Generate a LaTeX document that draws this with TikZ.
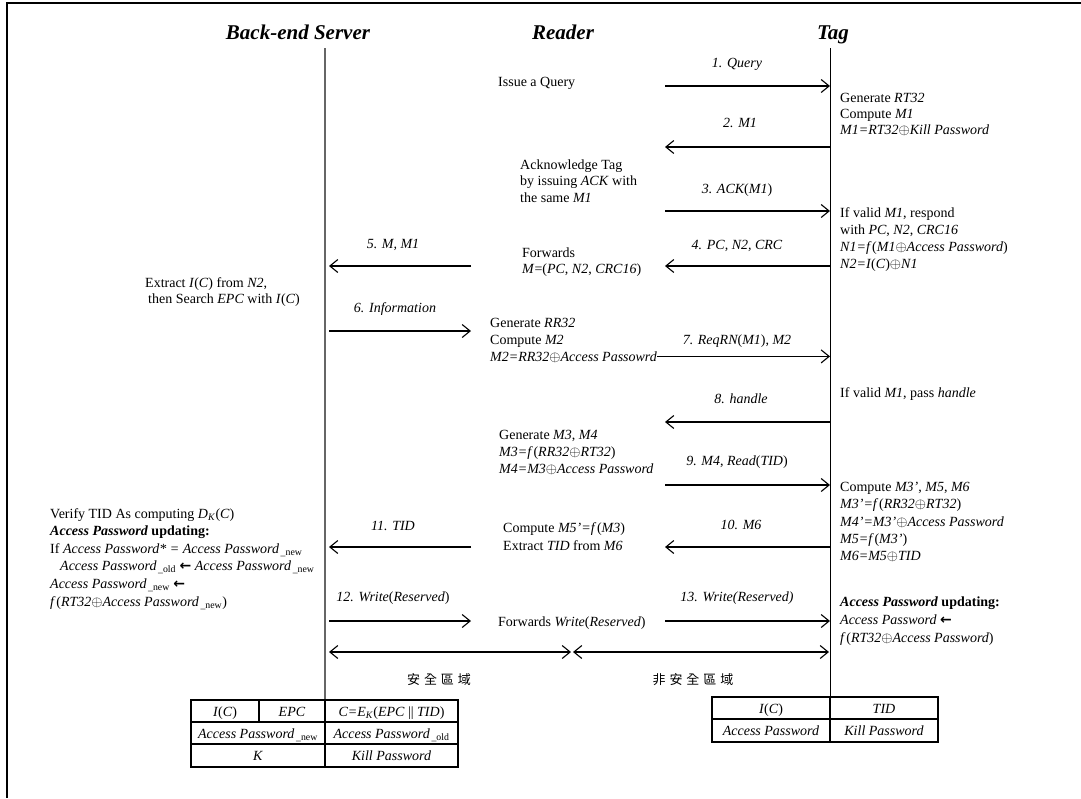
\documentclass[tikz,border=0pt]{standalone}
\usepackage{fontspec}
\setmainfont{Liberation Serif}
\newfontfamily\cjkfont[LetterSpace=30]{Noto Sans CJK TC}
\newfontfamily\dvsans{DejaVu Sans}
\usetikzlibrary{arrows.meta}
\newcommand{\xo}{\ensuremath{\oplus}}
\newcommand{\larr}{{\dvsans\bfseries ←}}
\newcommand{\snew}{\textsubscript{\,\_new}}
\newcommand{\sold}{\textsubscript{\,\_old}}
\begin{document}
\begin{tikzpicture}[x=1pt,y=-1pt,
  every node/.style={inner sep=0pt, font=\fontsize{14}{17}\selectfont},
  txt/.style={anchor=base west},
  lbl/.style={anchor=base, font=\fontsize{14}{17}\selectfont\itshape},
  ttl/.style={anchor=base, font=\fontsize{21}{24}\selectfont\bfseries\itshape},
  cell/.style={anchor=base},
  zone/.style={anchor=center, font=\fontsize{13}{15}\cjkfont},
  msg/.style={line width=1.1pt, -{Straight Barb[length=8pt,width=13pt]}},
  dbl/.style={line width=1.1pt, {Straight Barb[length=8pt,width=13pt]}-{Straight Barb[length=8pt,width=13pt]}},
  srvline/.style={line width=1.6pt, black!60},
  tagline/.style={line width=1pt, black},
  frame/.style={line width=2.5pt, black},
  tbl/.style={line width=1.6pt, black}]
\useasboundingbox (0,0) rectangle (1081,798);

% frame
\coordinate (fTL) at (7,3);
\coordinate (fTR) at (1081,3);
\coordinate (fBL) at (7,798);
\draw[frame] (fTR) -- (fTL) -- (fBL);

% titles
\node[ttl] (tSrv) at (298,39) {Back-end Server};
\node[ttl] (tRdr) at (563,39) {Reader};
\node[ttl] (tTag) at (833,39) {Tag};

% lifelines
\coordinate (srvTop) at (325,48);
\coordinate (srvBot) at (325,700);
\coordinate (tagTop) at (830,48);
\coordinate (tagBot) at (830,697);
\draw[srvline] (srvTop) -- (srvBot);
\draw[tagline] (tagTop) -- (tagBot);

% ---- message 1
\node[lbl] (l1) at (737,67) {1. Query};
\node[txt] (issue) at (498,86) {Issue a Query};
\coordinate (a1) at (665,86);
\draw[msg] (a1) -- (a1 -| tagTop);
\node[txt] (g1) at (840,102) {Generate \textit{RT32}};
\node[txt] (g2) at (840,118) {Compute \textit{M1}};
\node[txt] (g3) at (840,134) {\textit{M1=RT32}\xo\textit{Kill Password}};

% ---- message 2
\node[lbl] (l2) at (740,127) {2. M1};
\coordinate (a2) at (665,147);
\draw[msg] (a2 -| tagTop) -- (a2);
\node[txt] (k1) at (520,169) {Acknowledge Tag};
\node[txt] (k2) at (520,185) {by issuing \textit{ACK} with};
\node[txt] (k3) at (520,202) {the same \textit{M1}};

% ---- message 3
\node[lbl] (l3) at (737,193) {3. ACK\upshape(\itshape M1\upshape)};
\coordinate (a3) at (665,211);
\draw[msg] (a3) -- (a3 -| tagTop);
\node[txt] (v1) at (840,217) {If valid \textit{M1}, respond};
\node[txt] (v2) at (840,234) {with \textit{PC}, \textit{N2}, \textit{CRC16}};
\node[txt] (v3) at (840,251) {\textit{N1=f\,}(\textit{M1}\xo\textit{Access Password})};
\node[txt] (v4) at (840,268) {\textit{N2=I}(\textit{C})\xo\textit{N1}};

% ---- message 4
\node[lbl] (l4) at (737,249) {4. PC, N2, CRC};
\coordinate (a4) at (665,266);
\draw[msg] (a4 -| tagTop) -- (a4);
\node[txt] (f1) at (522,257) {Forwards};
\node[txt] (f2) at (522,273) {\textit{M}=(\textit{PC}, \textit{N2}, \textit{CRC16})};

% ---- message 5
\node[lbl] (l5) at (393,248) {5. M, M1};
\coordinate (a5) at (471,266);
\draw[msg] (a5) -- ([xshift=4pt]a5 -| srvTop);
\node[txt] (e1) at (145,287) {Extract \textit{I}(\textit{C}) from \textit{N2},};
\node[txt] (e2) at (148,303) {then Search \textit{EPC} with \textit{I}(\textit{C})};

% ---- message 6
\node[lbl] (l6) at (395,312) {6. Information};
\coordinate (a6) at (471,331);
\draw[msg] ([xshift=4pt]a6 -| srvTop) -- (a6);
\node[txt] (r1) at (490,327) {Generate \textit{RR32}};
\node[txt] (r2) at (490,344) {Compute \textit{M2}};
\node[txt] (r3) at (490,361) {\textit{M2=RR32}\xo\textit{Access Passowrd}};

% ---- message 7
\node[lbl] (l7) at (737,344) {7. ReqRN\upshape(\itshape M1\upshape), \itshape M2};
\coordinate (a7) at ([yshift=4.6pt]r3.base east);
\draw[msg] (a7) -- (a7 -| tagTop);
\node[txt] (h1) at (840,397) {If valid \textit{M1}, pass \textit{handle}};

% ---- message 8
\node[lbl] (l8) at (741,403) {8. handle};
\coordinate (a8) at (665,422);
\draw[msg] (a8 -| tagTop) -- (a8);
\node[txt] (n1) at (499,439) {Generate \textit{M3}, \textit{M4}};
\node[txt] (n2) at (499,456) {\textit{M3=f\,}(\textit{RR32}\xo\textit{RT32})};
\node[txt] (n3) at (499,473) {\textit{M4=M3}\xo\textit{Access Password}};

% ---- message 9
\node[lbl] (l9) at (737,465) {9. M4\upshape, \itshape Read\upshape(\itshape TID\upshape)};
\coordinate (a9) at (665,485);
\draw[msg] (a9) -- (a9 -| tagTop);
\node[txt] (c1) at (840,491) {Compute \textit{M3’}, \textit{M5}, \textit{M6}};
\node[txt] (c2) at (840,508) {\textit{M3’=f\,}(\textit{RR32}\xo\textit{RT32})};
\node[txt] (c3) at (840,526) {\textit{M4’=M3’}\xo\textit{Access Password}};
\node[txt] (c4) at (840,543) {\textit{M5=f\,}(\textit{M3’})};
\node[txt] (c5) at (840,560) {\textit{M6=M5}\xo\textit{TID}};

% ---- message 10
\node[lbl] (l10) at (741,529) {10. M6};
\coordinate (a10) at (665,547);
\draw[msg] (a10 -| tagTop) -- (a10);
\node[txt] (x1) at (503,532) {Compute \textit{M5’=f\,}(\textit{M3})};
\node[txt] (x2) at (503,550) {Extract \textit{TID} from \textit{M6}};

% ---- message 11
\node[lbl] (l11) at (393,530) {11. TID};
\coordinate (a11) at (471,547);
\draw[msg] (a11) -- ([xshift=4pt]a11 -| srvTop);
\node[txt] (s1) at (50,518) {Verify TID As computing \textit{D}\textsubscript{\textit{K}}(\textit{C})};
\node[txt] (s2) at (50,535) {\textbf{\textit{Access Password}} \textbf{updating:}};
\node[txt] (s3) at (50,553) {If \textit{Access Password* = Access Password}\snew};
\node[txt] (s4) at (60,570) {\textit{Access Password}\sold\ \larr\ \textit{Access Password}\snew};
\node[txt] (s5) at (50,588) {\textit{Access Password}\snew\ \larr};
\node[txt] (s6) at (50,606) {\textit{f\,}(\textit{RT32}\xo\textit{Access Password}\snew)};

% ---- message 12 / 13
\node[lbl] (l12) at (393,601) {12. Write\upshape(\itshape Reserved\upshape)};
\coordinate (a12) at (471,621);
\draw[msg] ([xshift=4pt]a12 -| srvTop) -- (a12);
\node[txt] (fw) at (498,626) {Forwards \textit{Write}(\textit{Reserved})};
\node[lbl] (l13) at (737,601) {13. Write(Reserved)};
\coordinate (a13) at (665,621);
\draw[msg] (a13) -- (a13 -| tagTop);
\node[txt] (u1) at (840,606) {\textbf{\textit{Access Password}} \textbf{updating:}};
\node[txt] (u2) at (840,624) {\textit{Access Password} \larr};
\node[txt] (u3) at (840,642) {\textit{f\,}(\textit{RT32}\xo\textit{Access Password})};

% ---- zones
\coordinate (zm) at (572,652);
\draw[dbl] ([xshift=4pt]zm -| srvTop) -- ([xshift=-1pt]zm);
\draw[dbl] ([xshift=1pt]zm) -- ([xshift=-1pt]zm -| tagTop);
\node[zone] (zs) at (439,680) {安全區域};
\node[zone] (zu) at (693,680) {非安全區域};

% ---- left table
\draw[tbl] (191,700) rectangle (458,767);
\draw[tbl] (191,722) -- (458,722);
\draw[tbl] (191,744) -- (458,744);
\draw[tbl] (325,700) -- (325,767);
\draw[tbl] (259,700) -- (259,722);
\node[cell] (b1) at (225,716) {\textit{I}(\textit{C})};
\node[cell] (b2) at (292,716) {\textit{EPC}};
\node[cell] (b3) at (391.5,716) {\textit{C=E}\textsubscript{\textit{K}}(\textit{EPC} || \textit{TID})};
\node[cell] (b4) at (258,738) {\textit{Access Password}\snew};
\node[cell] (b5) at (391.5,738) {\textit{Access Password}\sold};
\node[cell] (b6) at (258,760.5) {\textit{K}};
\node[cell] (b7) at (391.5,760.5) {\textit{Kill Password}};

% ---- right table
\draw[tbl] (712,697) rectangle (938,742);
\draw[tbl] (712,719) -- (938,719);
\draw[tbl] (830,697) -- (830,742);
\node[cell] (d1) at (771,713) {\textit{I}(\textit{C})};
\node[cell] (d2) at (884,713) {\textit{TID}};
\node[cell] (d3) at (771,735.5) {\textit{Access Password}};
\node[cell] (d4) at (884,735.5) {\textit{Kill Password}};
\end{tikzpicture}
\end{document}
